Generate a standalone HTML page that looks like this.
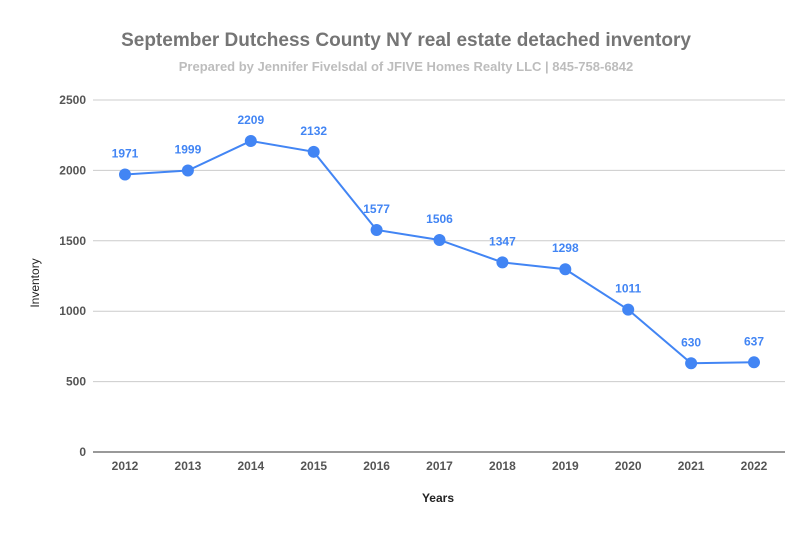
<!DOCTYPE html>
<html><head><meta charset="utf-8"><style>
body{margin:0;background:#fff;font-family:"Liberation Sans",sans-serif}
</style></head><body>
<svg width="812" height="533" xmlns="http://www.w3.org/2000/svg" style="display:block">
<rect width="812" height="533" fill="#fff"/>
<text x="406" y="46" text-anchor="middle" font-size="19" font-weight="bold" fill="#757575">September Dutchess County NY real estate detached  inventory</text>
<text x="406" y="71" text-anchor="middle" font-size="13" font-weight="bold" fill="#bdbdbd">Prepared by Jennifer Fivelsdal of JFIVE Homes Realty LLC | 845-758-6842</text>
<g id="grid"></g><g id="yt"></g><g id="xt"></g><g id="series"></g>
<text transform="translate(39,283) rotate(-90)" text-anchor="middle" font-size="12" fill="#222">Inventory</text>
<text x="438" y="502" text-anchor="middle" font-size="12" font-weight="bold" fill="#222">Years</text>
</svg>
<script>
const categories=["2012","2013","2014","2015","2016","2017","2018","2019","2020","2021","2022"];
const values=[1971,1999,2209,2132,1577,1506,1347,1298,1011,630,637];
const yTicks=[0,500,1000,1500,2000,2500];
const NS="http://www.w3.org/2000/svg";
const x=i=>125+i*(754-125)/(categories.length-1);
const y=v=>452-v*352/2500;
function mk(t,a,p,txt){const e=document.createElementNS(NS,t);for(const k in a)e.setAttribute(k,a[k]);if(txt!=null)e.textContent=txt;document.getElementById(p).appendChild(e);return e;}
yTicks.forEach(v=>{
 const l=mk('line',{x1:93,x2:785,y1:y(v),y2:y(v),stroke:v===0?'#333':'#ccc','stroke-width':1},'grid');
 
 
 const t=mk('text',{x:86,y:y(v)+4,'text-anchor':'end','font-size':12,'font-weight':'bold',fill:'#555'},'yt',v);
 
 
});
categories.forEach((c,i)=>{
 const t=mk('text',{x:x(i),y:470,'text-anchor':'middle','font-size':12,'font-weight':'bold',fill:'#555'},'xt',c);
 
 
});
const line=mk('polyline',{points:values.map((v,i)=>x(i)+','+y(v)).join(' '),fill:'none',stroke:'#4285f4','stroke-width':2},'series');


values.forEach((v,i)=>{
 const c=mk('circle',{cx:x(i),cy:y(v),r:6,fill:'#4285f4'},'series');
 
 
 const t=mk('text',{x:x(i),y:y(v)-17,'text-anchor':'middle','font-size':12,'font-weight':'bold',fill:'#4285f4'},'series',v);
 
 
});
</script>
</body></html>
